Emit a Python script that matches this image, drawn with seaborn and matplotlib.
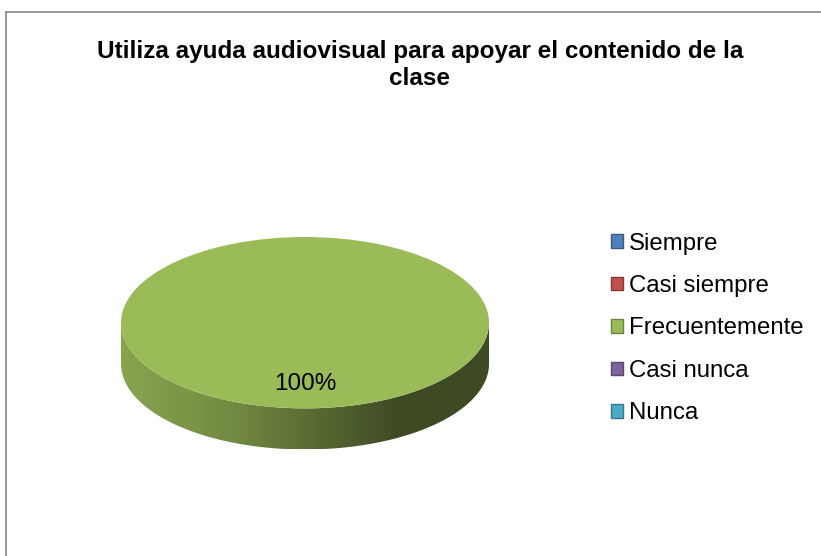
import numpy as np
import seaborn as sns
import matplotlib.pyplot as plt
from matplotlib.patches import Patch, Polygon
from matplotlib.lines import Line2D
from matplotlib.colors import LinearSegmentedColormap, to_rgb

# Chart data
categories = ['Siempre', 'Casi siempre', 'Frecuentemente', 'Casi nunca', 'Nunca']
values = [0, 0, 100, 0, 0]
colors = ['#4f81bd', '#c0504d', '#9bbb59', '#8064a2', '#4bacc6']
title = 'Utiliza ayuda audiovisual para apoyar el contenido de la\nclase'

W, H = 821, 556
depth = 0.48  # thickness of the 3D pie, in units of the vertical radius


def shade(c, f):
    r, g, b = to_rgb(c)
    return (r * f, g * f, b * f)


sns.set_style('white')
plt.rcParams['font.family'] = ['Liberation Sans', 'DejaVu Sans']
plt.rcParams['text.color'] = 'black'

fig = plt.figure(figsize=(W / 100, H / 100), dpi=100)
ax = fig.add_axes([121 / W, (H - 449.5) / H, 368 / W, 212.5 / H])

wedges, texts, autotexts = ax.pie(
    values, colors=sns.color_palette(colors), startangle=90,
    counterclock=True, radius=1,
    autopct=lambda p: '%.0f%%' % p if p > 0 else '',
    pctdistance=0.71, wedgeprops=dict(linewidth=0),
    textprops=dict(fontsize=17.5, color='black'))
ax.set_aspect('auto')
for t in autotexts:
    t.set_zorder(5)

# Side of the pie (front half only), shaded with a horizontal gradient
for w, c in zip(wedges, colors):
    t1, t2 = w.theta1, w.theta2
    for k in (-360, 0, 360):
        lo, hi = max(t1, 180 + k), min(t2, 360 + k)
        if hi <= lo:
            continue
        th = np.radians(np.linspace(lo, hi, 200))
        xs, ys = np.cos(th), np.sin(th)
        pts = np.vstack([np.column_stack([xs, ys]),
                         np.column_stack([xs[::-1], ys[::-1] - depth])])
        poly = Polygon(pts, closed=True, facecolor='none', edgecolor='none')
        ax.add_patch(poly)
        cmap = LinearSegmentedColormap.from_list(
            'side', [(0, shade(c, 0.88)), (0.3, shade(c, 0.74)),
                     (0.75, shade(c, 0.40)), (1, shade(c, 0.40))])
        grad = np.linspace(0, 1, 256).reshape(1, -1)
        im = ax.imshow(grad, cmap=cmap, aspect='auto',
                       extent=[-1, 1, -1 - depth, 0.05], zorder=0.5)
        im.set_clip_path(poly)
ax.set_xlim(-1, 1)
ax.set_ylim(-1 - depth, 1)
ax.axis('off')

# Title
fig.text(420 / W, 1 - 40 / H, title, ha='center', va='top', color='black',
         fontsize=17.5, fontweight='bold', linespacing=1.2)

# Legend
handles = [Patch(facecolor=c, edgecolor=shade(c, 0.7), linewidth=1)
           for c in colors]
leg = fig.legend(handles, categories, loc='center left',
                 bbox_to_anchor=(611 / W, 1 - 328.5 / H), frameon=False,
                 fontsize=17.3, handlelength=0.5, handleheight=0.5,
                 handletextpad=0.25, labelspacing=0.85,
                 borderaxespad=0, borderpad=0)
for t in leg.get_texts():
    t.set_color('black')

# Chart area border (cropped on the right and bottom)
fig.add_artist(Line2D([5.5 / W, 5.5 / W], [0, 1 - 11.5 / H],
                      transform=fig.transFigure, color='#888888', lw=1.2))
fig.add_artist(Line2D([5.5 / W, 1], [1 - 11.5 / H, 1 - 11.5 / H],
                      transform=fig.transFigure, color='#888888', lw=1.2))

fig.savefig('out.png', dpi=100)
